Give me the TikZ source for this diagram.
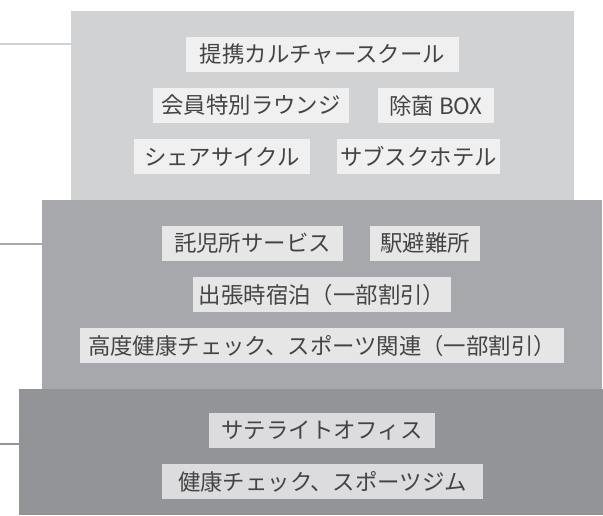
\documentclass[tikz,border=0pt]{standalone}
\usepackage{fontspec}
\newfontfamily\jp{Noto Sans CJK JP}
\definecolor{layA}{HTML}{D1D2D4}
\definecolor{layB}{HTML}{A7A8AB}
\definecolor{layC}{HTML}{939497}
\definecolor{labA}{HTML}{F0F0F0}
\definecolor{labB}{HTML}{E6E6E7}
\definecolor{labC}{HTML}{DCDCDE}
\definecolor{txt}{HTML}{444444}
\tikzset{
  layer/.style={draw=none, inner sep=0pt, anchor=center},
  lab/.style={inner xsep=0pt, inner ysep=0pt, minimum height=35pt, text=txt,
    font=\jp\fontsize{22.4}{22.4}\selectfont, anchor=center},
  tie/.style={line width=2pt}
}
\begin{document}
\begin{tikzpicture}[x=1pt, y=-1pt]
\useasboundingbox (0,0) rectangle (603,515);
% layers
\node[layer, fill=layA, minimum width=503pt, minimum height=189pt] (L1) at (322.5,105.5) {};
\node[layer, fill=layB, minimum width=560pt, minimum height=189pt] (L2) at (322,294.5) {};
\node[layer, fill=layC, minimum width=584pt, minimum height=126pt] (L3) at (311,452) {};
% left ties
\coordinate (c1) at (0,44);
\coordinate (c2) at (0,244);
\coordinate (c3) at (0,444);
\draw[tie, layA] (c1) -- (c1 -| L1.west);
\draw[tie, layB] (c2) -- (c2 -| L2.west);
\draw[tie, layC] (c3) -- (c3 -| L3.west);
% layer 1 labels
\node[lab, fill=labA, minimum width=273pt] (t1) at (322.5,54.5) {提携カルチャースクール};
\node[lab, fill=labA, minimum width=196pt] (t2) at (251,105.5) {会員特別ラウンジ};
\node[lab, fill=labA, minimum width=116pt] (t3) at (436,105.5) {除菌 BOX};
\node[lab, fill=labA, minimum width=176pt] (t4) at (222,156.5) {シェアサイクル};
\node[lab, fill=labA, minimum width=163pt] (t5) at (418.5,156.5) {サブスクホテル};
% layer 2 labels
\node[lab, fill=labB, minimum width=181pt] (t6) at (252.5,243) {託児所サービス};
\node[lab, fill=labB, minimum width=110pt] (t7) at (425,243) {駅避難所};
\node[lab, fill=labB, minimum width=258pt] (t8) at (322,294.5) {出張時宿泊（一部割引）};
\node[lab, fill=labB, minimum width=484pt] (t9) at (322,345.5) {高度健康チェック、スポーツ関連（一部割引）};
% layer 3 labels
\node[lab, fill=labC, minimum width=226pt] (t10) at (322,430.5) {サテライトオフィス};
\node[lab, fill=labC, minimum width=321pt] (t11) at (322.5,481.5) {健康チェック、スポーツジム};
\end{tikzpicture}
\end{document}
